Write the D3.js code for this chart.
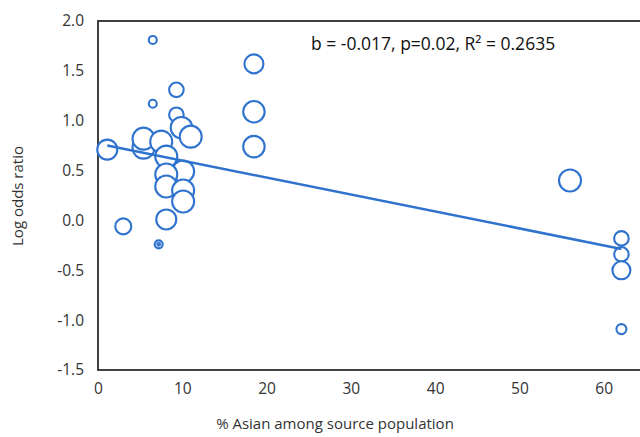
<!DOCTYPE html>
<html>
<head>
<meta charset="utf-8">
<script src="https://cdn.jsdelivr.net/npm/d3@7"></script>
<style>
  body { margin: 0; background: #fff; }
  text { font-family: "Open Sans", "Liberation Sans", sans-serif; fill: #333; }
</style>
</head>
<body>
<div id="container"></div>
<script>
// data
var pctAsian = [6.5, 9.3, 6.5, 9.3, 5.4, 1.1, 5.4, 9.9, 11.0, 7.5, 8.1, 10.1, 8.1, 8.1, 10.1, 10.1, 8.1, 3.0, 7.2, 7.2,
                18.5, 18.5, 18.5, 56.0, 62.1, 62.1, 62.1, 62.1];
var logOdds  = [1.81, 1.31, 1.17, 1.06, 0.73, 0.71, 0.82, 0.93, 0.84, 0.79, 0.64, 0.49, 0.46, 0.34, 0.30, 0.19, 0.01, -0.06, -0.24, -0.24,
                1.57, 1.09, 0.74, 0.40, -0.18, -0.34, -0.50, -1.09];
var weight   = [16, 53, 16, 53, 121, 100, 121, 115, 121, 121, 121, 121, 121, 121, 121, 121, 100, 64, 16, 2,
                90, 115, 115, 121, 53, 53, 81, 25];
var fit = {intercept: 0.77, slope: -0.017};
var note = "b = -0.017, p=0.02, R\u00b2 = 0.2635";
var xTicks = [0, 10, 20, 30, 40, 50, 60];
var yTicks = [-1.5, -1.0, -0.5, 0.0, 0.5, 1.0, 1.5, 2.0];

var W = 640, H = 437,
    col = {marker: "#2f73cf", frame: "#262626"};

var svg = d3.select("#container").append("svg")
    .attr("width", W).attr("height", H);

var x = d3.scaleLinear().domain([0, 70]).range([98, 688]);
var y = d3.scaleLinear().domain([-1.5, 2.0]).range([370, 21]);
var r = d3.scaleSqrt().domain([0, 121]).range([0, 11]);

var fmt = function(v) { return d3.format(".1f")(v).replace("\u2212", "-"); };

// plot frame
svg.append("rect")
    .attr("x", x(0)).attr("y", y(2.0))
    .attr("width", x(70) - x(0)).attr("height", y(-1.5) - y(2.0))
    .attr("fill", "none")
    .attr("stroke", col.frame)
    .attr("stroke-width", 1.75);

// Y axis labels
svg.append("g")
    .attr("transform", "translate(" + x(0) + ",0)")
    .call(d3.axisLeft(y).tickValues(yTicks).tickFormat(fmt).tickSize(0).tickPadding(14))
    .call(function(g) { g.select(".domain").remove(); })
    .selectAll("text")
        .style("font-size", "15.5px")
        .attr("fill", "#333");

// X axis labels
svg.append("g")
    .attr("transform", "translate(0," + y(-1.5) + ")")
    .call(d3.axisBottom(x).tickValues(xTicks).tickFormat(d3.format("d")).tickSize(0).tickPadding(13))
    .call(function(g) { g.select(".domain").remove(); })
    .selectAll("text")
        .style("font-size", "15.5px")
        .attr("fill", "#333");

// axis titles
svg.append("text")
    .attr("x", 335).attr("y", 429)
    .attr("text-anchor", "middle")
    .style("font-size", "15px")
    .text("% Asian among source population");

svg.append("text")
    .attr("transform", "rotate(-90)")
    .attr("x", -196).attr("y", 23)
    .attr("text-anchor", "middle")
    .style("font-size", "15px")
    .text("Log odds ratio");

// bubbles
var pts = pctAsian.map(function(d, i) { return {x: d, y: logOdds[i], w: weight[i]}; });

svg.append("g").selectAll("circle")
    .data(pts)
    .enter()
    .append("circle")
        .attr("cx", function(d) { return x(d.x); })
        .attr("cy", function(d) { return y(d.y); })
        .attr("r", function(d) { return r(d.w); })
        .attr("fill", "#fff")
        .attr("stroke", col.marker)
        .attr("stroke-width", 2.1);

// linear fit
var xmin = d3.min(pctAsian), xmax = d3.max(pctAsian);
svg.append("line")
    .attr("x1", x(xmin)).attr("y1", y(fit.intercept + fit.slope * xmin))
    .attr("x2", x(xmax)).attr("y2", y(fit.intercept + fit.slope * xmax))
    .attr("stroke", col.marker)
    .attr("stroke-width", 2.5);

svg.append("text")
    .attr("x", 311).attr("y", 50)
    .style("font-size", "17.5px")
    .style("fill", "#111")
    .text(note);
</script>
</body>
</html>
